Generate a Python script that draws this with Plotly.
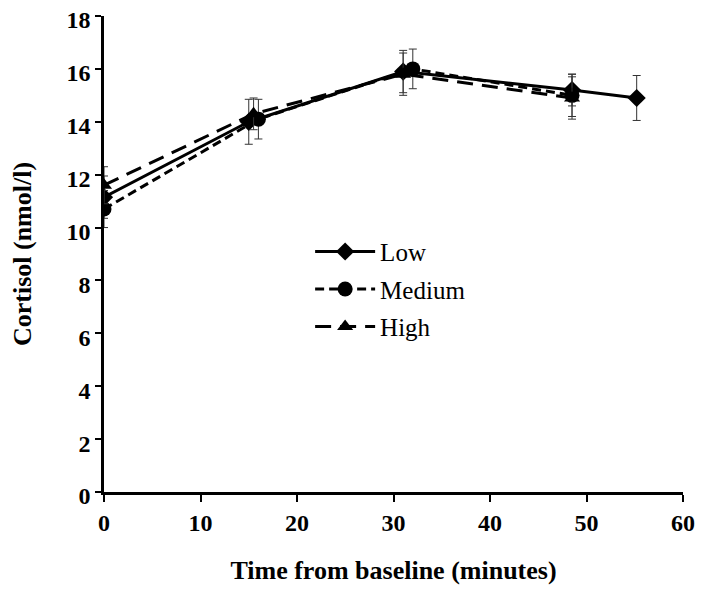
import plotly.graph_objects as go

# Data
low_x = [0, 15, 31, 48.5, 55.2]
low_y = [11.15, 14.0, 15.9, 15.2, 14.9]
low_err = [0.8, 0.85, 0.8, 0.6, 0.85]

med_x = [0, 16, 32, 48.5]
med_y = [10.7, 14.1, 16.0, 15.0]
med_err = [0.7, 0.75, 0.75, 0.8]

high_x = [0, 15.5, 31, 48.5]
high_y = [11.6, 14.3, 15.8, 14.9]
high_err = [0.7, 0.6, 0.8, 0.8]

x_ticks = [0, 10, 20, 30, 40, 50, 60]
y_ticks = [0, 2, 4, 6, 8, 10, 12, 14, 16, 18]

FONT = "Liberation Serif"

fig = go.Figure()

def add(name, xs, ys, errs, symbol, dash, msize):
    fig.add_trace(go.Scatter(
        x=xs, y=ys, name=name, mode="lines+markers", legendgroup=name,
        line=dict(color="black", width=3, dash=dash),
        marker=dict(symbol=symbol, size=msize, color="black"),
        error_y=dict(type="data", array=errs, visible=True,
                     color="#333333", thickness=1, width=4),
    ))

add("Low", low_x, low_y, low_err, "diamond", "solid", 14)
add("Medium", med_x, med_y, med_err, "circle", "9px,5px", 15)
add("High", high_x, high_y, high_err, "triangle-up", "16px,9px", 14)

fig.update_layout(
    width=688, height=577,
    margin=dict(l=96, r=13, t=8, b=93),
    paper_bgcolor="white", plot_bgcolor="white",
    font=dict(family=FONT, color="black"),
    showlegend=True,
    legend=dict(x=0.356, y=0.553, xanchor="left", yanchor="top",
                font=dict(family=FONT, size=25, color="black"),
                bgcolor="rgba(0,0,0,0)", itemwidth=60,
                tracegroupgap=2),
)

fig.update_xaxes(
    range=[0, 60], tickvals=x_ticks, ticktext=[str(v) for v in x_ticks],
    showline=True, linecolor="black", linewidth=2.5,
    ticks="outside", ticklen=7, tickwidth=2, tickcolor="black",
    showgrid=False, zeroline=False, automargin=False,
    ticklabeloverflow="allow",
    tickfont=dict(family=FONT, size=24, color="black", weight="bold"),
    title=dict(text="<b>Time from baseline (minutes)</b>",
               font=dict(family=FONT, size=26, color="black"), standoff=32),
)
fig.update_yaxes(
    range=[0, 18], tickvals=y_ticks, ticktext=[str(v) for v in y_ticks],
    showline=True, linecolor="black", linewidth=2.5,
    ticks="outside", ticklen=6, tickwidth=2, tickcolor="black",
    showgrid=False, zeroline=False, automargin=False,
    ticklabeloverflow="allow", ticklabelshift=4,
    tickfont=dict(family=FONT, size=24, color="black", weight="bold"),
    title=dict(text="<b>Cortisol (nmol/l)</b>",
               font=dict(family=FONT, size=26, color="black"), standoff=40),
)

fig.write_html("out.html")
